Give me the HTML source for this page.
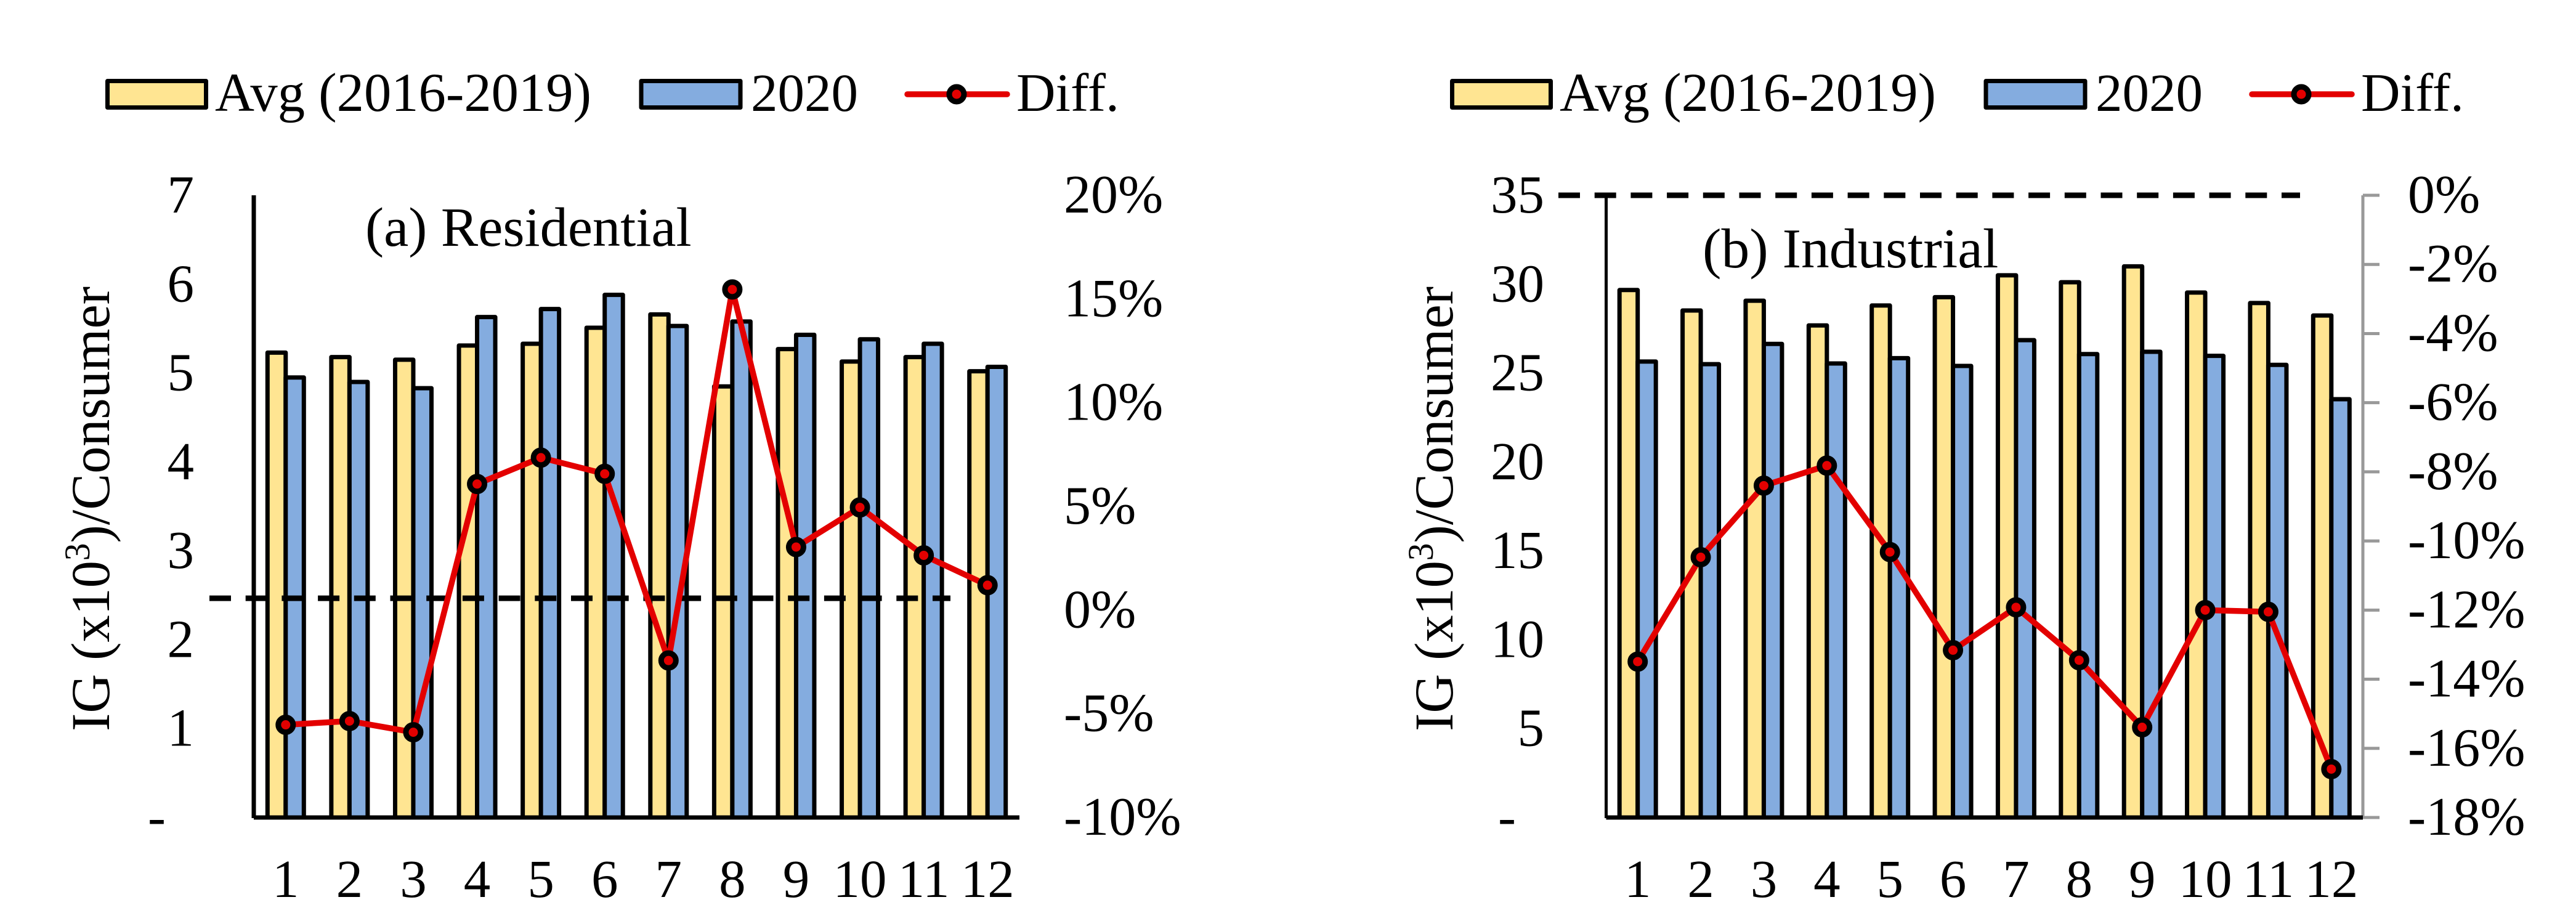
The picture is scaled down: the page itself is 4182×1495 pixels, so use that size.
<!DOCTYPE html>
<html lang="en">
<head>
<meta charset="utf-8">
<title>IG per consumer: residential and industrial</title>
<style>
  html, body { margin: 0; padding: 0; background: #fff; }
  svg { display: block; }
  text { font-family: "Liberation Serif", "Times New Roman", serif; fill: #000; }
</style>
</head>
<body>
<svg id="figure" xmlns="http://www.w3.org/2000/svg" width="4182" height="1495" viewBox="0 0 4182 1495">
  <rect x="0" y="0" width="4182" height="1495" fill="#fff"/>

  <g>
    <rect x="174.5" y="131.5" width="160" height="43" fill="#FFE592" stroke="#000" stroke-width="7" stroke-linejoin="round"/>
    <text x="349" y="180" font-size="88.6">Avg (2016-2019)</text>
    <rect x="1041" y="131.5" width="161" height="43" fill="#84ACDF" stroke="#000" stroke-width="7" stroke-linejoin="round"/>
    <text x="1219" y="180" font-size="87">2020</text>
    <line x1="1473" y1="153" x2="1635" y2="153" stroke="#E30000" stroke-width="9.5" stroke-linecap="round"/>
    <circle cx="1553" cy="153" r="12" fill="#E30000" stroke="#000" stroke-width="9"/>
    <text x="1650" y="180" font-size="88">Diff.</text>
  </g>

  <g>
    <rect x="2357.5" y="131.5" width="160" height="43" fill="#FFE592" stroke="#000" stroke-width="7" stroke-linejoin="round"/>
    <text x="2532" y="180" font-size="88.6">Avg (2016-2019)</text>
    <rect x="3224" y="131.5" width="161" height="43" fill="#84ACDF" stroke="#000" stroke-width="7" stroke-linejoin="round"/>
    <text x="3402" y="180" font-size="87">2020</text>
    <line x1="3656" y1="153" x2="3818" y2="153" stroke="#E30000" stroke-width="9.5" stroke-linecap="round"/>
    <circle cx="3736" cy="153" r="12" fill="#E30000" stroke="#000" stroke-width="9"/>
    <text x="3833" y="180" font-size="88">Diff.</text>
  </g>

  <text x="593" y="399" font-size="90.4">(a) Residential</text>
  <text x="2764" y="434" font-size="91.5">(b) Industrial</text>

  <text transform="translate(177,1187) rotate(-90)" font-size="89" textLength="722" lengthAdjust="spacingAndGlyphs">IG (x10<tspan font-size="58" dy="-32">3</tspan><tspan dy="32">)/Consumer</tspan></text>
  <text transform="translate(2358,1187) rotate(-90)" font-size="89" textLength="722" lengthAdjust="spacingAndGlyphs">IG (x10<tspan font-size="58" dy="-32">3</tspan><tspan dy="32">)/Consumer</tspan></text>
</svg>

<script>
// ---- data ----
const months = ['1', '2', '3', '4', '5', '6', '7', '8', '9', '10', '11', '12'];

const residentialAvg = [5.23, 5.18, 5.15, 5.31, 5.33, 5.51, 5.66, 4.85, 5.27, 5.13, 5.18, 5.02];
const residential2020 = [4.95, 4.90, 4.83, 5.63, 5.72, 5.88, 5.53, 5.58, 5.43, 5.38, 5.33, 5.07];
const residentialDiff = [-5.53, -5.35, -5.89, 6.08, 7.35, 6.57, -2.43, 15.46, 3.04, 4.95, 2.64, 1.20];
const residentialLeftTicks = [0, 1, 2, 3, 4, 5, 6, 7];
const residentialRightTicks = [-10, -5, 0, 5, 10, 15, 20];
const residentialReference = 0.57;

const industrialAvg = [29.67, 28.52, 29.07, 27.68, 28.80, 29.27, 30.50, 30.11, 31.00, 29.53, 28.94, 28.24];
const industrial2020 = [25.65, 25.50, 26.64, 25.54, 25.84, 25.40, 26.85, 26.07, 26.20, 25.97, 25.46, 23.53];
const industrialDiff = [-13.49, -10.47, -8.40, -7.82, -10.32, -13.16, -11.92, -13.45, -15.39, -12.00, -12.05, -16.60];
const industrialLeftTicks = [0, 5, 10, 15, 20, 25, 30, 35];
const industrialRightTicks = [-18, -16, -14, -12, -10, -8, -6, -4, -2, 0];
const industrialReference = 0;

// ---- drawing ----
const SVG_NS = 'http://www.w3.org/2000/svg';
const figure = document.getElementById('figure');
const COLOR_AVG = '#FFE592';
const COLOR_2020 = '#84ACDF';
const COLOR_DIFF = '#E30000';

function make(parent, tag, attrs) {
  const el = document.createElementNS(SVG_NS, tag);
  for (const key in attrs) el.setAttribute(key, attrs[key]);
  parent.appendChild(el);
  return el;
}

function drawChart(name, opts) {
  const plotTop = 317;
  const plotBottom = 1327;
  const step = (opts.right - opts.left) / opts.categories.length;
  const leftMin = opts.leftTicks[0];
  const leftMax = opts.leftTicks[opts.leftTicks.length - 1];
  const rightMin = opts.rightTicks[0];
  const rightMax = opts.rightTicks[opts.rightTicks.length - 1];
  const xCenter = i => opts.left + step * (i + 0.5);
  const yLeft = v => plotBottom - (v - leftMin) / (leftMax - leftMin) * (plotBottom - plotTop);
  const yRight = v => plotBottom - (v - rightMin) / (rightMax - rightMin) * (plotBottom - plotTop);

  const group = make(figure, 'g', {});
  
  

  // bars
  const barWidth = 29.5;
  opts.categories.forEach((cat, i) => {
    const avgTop = yLeft(opts.avg[i]);
    const avgBar = make(group, 'rect', {
      x: xCenter(i) - barWidth, y: avgTop, width: barWidth, height: plotBottom - avgTop,
      fill: COLOR_AVG, stroke: '#000', 'stroke-width': 7, 'stroke-linejoin': 'round'
    });
    
    

    const recentTop = yLeft(opts.recent[i]);
    const recentBar = make(group, 'rect', {
      x: xCenter(i), y: recentTop, width: barWidth, height: plotBottom - recentTop,
      fill: COLOR_2020, stroke: '#000', 'stroke-width': 7, 'stroke-linejoin': 'round'
    });
    
    
  });

  // axes
  const yAxis = make(group, 'line', {
    x1: opts.left, y1: plotTop, x2: opts.left, y2: plotBottom + 1, stroke: '#000', 'stroke-width': opts.axisWidth
  });
  
  

  if (opts.grayAxis) {
    const rightAxis = make(group, 'line', {
      x1: opts.right, y1: plotTop, x2: opts.right, y2: plotBottom, stroke: '#999', 'stroke-width': 5
    });
    
    
    opts.rightTicks.forEach(v => {
      const tick = make(group, 'line', {
        x1: opts.right, y1: yRight(v), x2: opts.right + 27, y2: yRight(v), stroke: '#999', 'stroke-width': 5
      });
      
      
    });
  }

  const xAxis = make(group, 'line', {
    x1: opts.left, y1: plotBottom, x2: opts.right, y2: plotBottom, stroke: '#000', 'stroke-width': 7
  });
  
  

  // dashed reference line
  const refY = yRight(opts.reference);
  const refLine = make(group, 'line', {
    x1: opts.dashStart, y1: refY, x2: opts.dashEnd, y2: refY,
    stroke: '#000', 'stroke-width': 9, 'stroke-dasharray': '35 23.7'
  });
  
  

  // diff line
  const pts = opts.diff.map((v, i) => xCenter(i) + ',' + yRight(v)).join(' ');
  const diffLine = make(group, 'polyline', {
    points: pts, fill: 'none', stroke: COLOR_DIFF, 'stroke-width': 9.5, 'stroke-linejoin': 'round'
  });
  
  

  opts.diff.forEach((v, i) => {
    const marker = make(group, 'circle', {
      cx: xCenter(i), cy: yRight(v), r: 12, fill: COLOR_DIFF, stroke: '#000', 'stroke-width': 9
    });
    
    
  });

  // labels
  opts.categories.forEach((cat, i) => {
    const label = make(group, 'text', {
      x: xCenter(i), y: 1456, 'font-size': 87, 'text-anchor': 'middle'
    });
    label.textContent = cat;
    
    
  });

  opts.leftTicks.forEach(v => {
    const isZero = v === 0;
    const label = make(group, 'text', {
      x: isZero ? opts.leftLabelX - 46 : opts.leftLabelX, y: yLeft(v) + 28, 'font-size': 87, 'text-anchor': 'end'
    });
    label.textContent = isZero ? '-' : String(v);
    
    
  });

  opts.rightTicks.forEach(v => {
    const label = make(group, 'text', {
      x: opts.rightLabelX, y: yRight(v) + 28, 'font-size': 88
    });
    label.textContent = v + '%';
    
    
  });
}

drawChart('residential', {
  categories: months,
  avg: residentialAvg,
  recent: residential2020,
  diff: residentialDiff,
  leftTicks: residentialLeftTicks,
  rightTicks: residentialRightTicks,
  reference: residentialReference,
  left: 412,
  right: 1655,
  axisWidth: 7,
  dashStart: 340,
  dashEnd: 1543,
  leftLabelX: 315,
  rightLabelX: 1727,
  grayAxis: false
});

drawChart('industrial', {
  categories: months,
  avg: industrialAvg,
  recent: industrial2020,
  diff: industrialDiff,
  leftTicks: industrialLeftTicks,
  rightTicks: industrialRightTicks,
  reference: industrialReference,
  left: 2607.5,
  right: 3836,
  axisWidth: 5,
  dashStart: 2530,
  dashEnd: 3734,
  leftLabelX: 2507,
  rightLabelX: 3909,
  grayAxis: true
});
</script>
</body>
</html>
